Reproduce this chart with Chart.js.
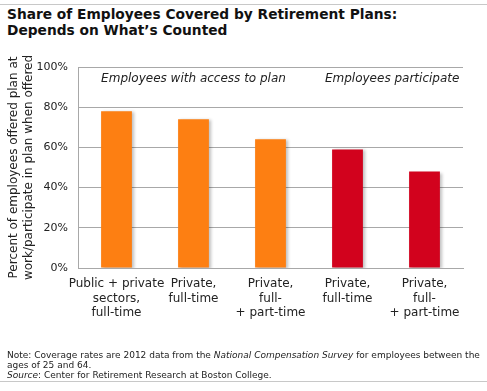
<!DOCTYPE html>
<html lang="en">
<head>
<meta charset="UTF-8">
<title>Share of Employees Covered by Retirement Plans</title>
<script src="https://cdn.jsdelivr.net/npm/chart.js"></script>
<style>
    html, body { margin: 0; padding: 0; background: #fff; }
    body { width: 487px; height: 391px; position: relative; overflow: hidden; font-family: 'DejaVu Sans', Verdana, sans-serif; color: #222; }
    .rule { position: absolute; left: 0; width: 487px; height: 1px; background: #c8c8c8; }
    .title { position: absolute; left: 7px; top: 6px; font-size: 13.75px; font-weight: bold; line-height: 16px; color: #111; }
    .note { position: absolute; left: 7px; top: 350px; font-size: 9px; line-height: 10px; color: #222; }
    #wrap { position: absolute; left: 0; top: 0; width: 487px; height: 391px; }
</style>
</head>
<body>
<div class="rule" style="top:4px"></div>
<div class="title">Share of Employees Covered by Retirement Plans:<br>Depends on What’s Counted</div>
<div id="wrap"><canvas id="chart"></canvas></div>
<div class="note">Note: Coverage rates are 2012 data from the <i>National Compensation Survey</i> for employees between the<br>ages of 25 and 64.<br><i>Source</i>: Center for Retirement Research at Boston College.</div>
<div class="rule" style="top:381px"></div>

<script>
    // categories (multi-line labels) and values in percent
    const categories = [
        ['Public + private', 'sectors,', 'full-time'],
        ['Private,', 'full-time'],
        ['Private,', 'full-', '+ part-time'],
        ['Private,', 'full-time'],
        ['Private,', 'full-', '+ part-time']
    ];
    const shares = [78, 74, 64, 59, 48];
    const groups = ['access', 'access', 'access', 'participate', 'participate'];
    const yTicks = [0, 20, 40, 60, 80, 100];

    const groupColors = { access: '#fd7f12', participate: '#d2021d' };

    // group captions drawn over the bars
    const captions = [
        { text: 'Employees with access to plan', at: 1, y: 94 },
        { text: 'Employees participate', at: 3.58, y: 94 }
    ];

    const captionPlugin = {
        id: 'captions',
        afterDatasetsDraw(chart) {
            const ctx = chart.ctx;
            const x = chart.scales.x, y = chart.scales.y;
            ctx.save();
            ctx.font = 'italic 12px "DejaVu Sans"';
            ctx.fillStyle = '#222';
            ctx.textAlign = 'center';
            ctx.textBaseline = 'middle';
            captions.forEach(c => {
                const px = x.getPixelForValue(Math.floor(c.at)) + (c.at % 1) * (x.getPixelForValue(1) - x.getPixelForValue(0));
                ctx.fillText(c.text, px, y.getPixelForValue(c.y));
            });
            ctx.restore();
        }
    };

    // soft shadow behind the bars
    const shadowPlugin = {
        id: 'barShadow',
        beforeDatasetsDraw(chart) {
            const ctx = chart.ctx;
            ctx.save();
            ctx.shadowColor = 'rgba(0,0,0,0.25)';
            ctx.shadowBlur = 3;
            ctx.shadowOffsetX = 2;
            ctx.shadowOffsetY = 1;
        },
        afterDatasetsDraw(chart) {
            chart.ctx.restore();
        }
    };

    new Chart(document.getElementById('chart'), {
        type: 'bar',
        data: {
            labels: categories,
            datasets: [{
                data: shares,
                backgroundColor: groups.map(g => groupColors[g]),
                borderWidth: 0,
                categoryPercentage: 1,
                barPercentage: 0.4
            }]
        },
        options: {
            responsive: true,
            maintainAspectRatio: false,
            animation: false,
            layout: { padding: { left: 0, top: 67, right: 24, bottom: 0 } },
            plugins: {
                legend: { display: false },
                tooltip: { enabled: false }
            },
            scales: {
                x: {
                    grid: { display: false, drawTicks: false },
                    border: { color: '#a8a8a8' },
                    ticks: {
                        color: '#222',
                        font: { family: 'DejaVu Sans', size: 12 },
                        padding: 9,
                        maxRotation: 0,
                        autoSkip: false
                    },
                    afterFit(scale) { scale.height = 123; }
                },
                y: {
                    min: 0,
                    max: 100,
                    afterBuildTicks(scale) { scale.ticks = yTicks.map(v => ({ value: v })); },
                    grid: { color: '#a8a8a8', drawTicks: false },
                    border: { color: '#a8a8a8' },
                    ticks: {
                        color: '#222',
                        font: { family: 'DejaVu Sans', size: 11 },
                        padding: 10,
                        callback: v => v + '%'
                    },
                    title: {
                        display: true,
                        text: ['Percent of employees offered plan at', 'work/participate in plan when offered'],
                        color: '#222',
                        font: { family: 'DejaVu Sans', size: 12, lineHeight: 1.25 },
                        padding: { top: 6, bottom: 0 }
                    },
                    afterFit(scale) { scale.width = 78; }
                }
            }
        },
        plugins: [shadowPlugin, captionPlugin]
    });
</script>
</body>
</html>
